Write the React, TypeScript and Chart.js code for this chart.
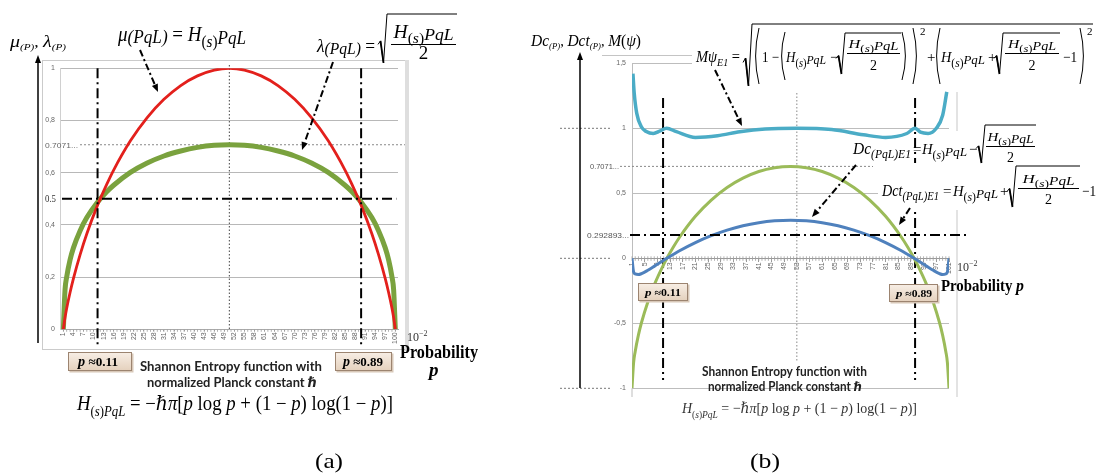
import React, { useEffect, useRef } from 'react';
import { Chart, registerables } from 'chart.js';
Chart.register(...registerables);

// ---------- DATA ----------
// Panel (a): category index 1..100 (probability ×10^-2)
const xTicksA = [1, 4, 7, 10, 13, 16, 19, 22, 25, 28, 31, 34, 37, 40, 43, 46, 49, 52, 55, 58, 61, 64, 67, 70, 73, 76, 79, 82, 85, 88, 91, 94, 97, 100];
const yTicksA = [0, 0.2, 0.4, 0.6, 0.8, 1];
const idxA = [1, 1.5, 2, 3, 4, 6, 8, 11, 14, 16, 21, 26, 31, 36, 41, 46, 50.5, 55, 60, 65, 70, 75, 80, 85, 87, 90, 93, 95, 97, 98, 99, 99.5, 100];
const muA = [0, 0.045, 0.081, 0.141, 0.194, 0.286, 0.366, 0.469, 0.557, 0.61, 0.722, 0.811, 0.881, 0.934, 0.971, 0.993, 1.0, 0.993, 0.971, 0.934, 0.881, 0.811, 0.722, 0.61, 0.557, 0.469, 0.366, 0.286, 0.194, 0.141, 0.081, 0.045, 0];
const lambdaA = [0, 0.151, 0.201, 0.266, 0.312, 0.378, 0.428, 0.484, 0.528, 0.552, 0.601, 0.637, 0.664, 0.683, 0.697, 0.705, 0.707, 0.705, 0.697, 0.683, 0.664, 0.637, 0.601, 0.552, 0.528, 0.484, 0.428, 0.378, 0.312, 0.266, 0.201, 0.151, 0];
const refLevelsA = [0.7071, 0.5];
const markPA = [11.2, 89.8];
const centerA = 50.5;

// Panel (b): category index 1..101
const xTicksB = [1, 5, 9, 13, 17, 21, 25, 29, 33, 37, 41, 45, 49, 53, 57, 61, 65, 69, 73, 77, 81, 85, 89, 93, 97, 101];
const yTicksB = [-1, -0.5, 0, 0.5, 1, 1.5];
const idxB = [1, 1.5, 2, 3, 4, 6, 8, 11, 12, 14, 16, 21, 26, 31, 36, 41, 46, 51, 56, 61, 66, 71, 76, 81, 86, 88, 90, 91, 94, 96, 98, 99, 100, 100.5, 101];
const dcB = [0, -0.105, -0.12, -0.125, -0.118, -0.092, -0.062, -0.015, 0, 0.029, 0.058, 0.121, 0.174, 0.217, 0.251, 0.274, 0.288, 0.293, 0.288, 0.274, 0.251, 0.217, 0.174, 0.121, 0.058, 0.029, 0, -0.015, -0.062, -0.092, -0.118, -0.125, -0.12, -0.105, 0];
const dctB = [-1, -0.804, -0.718, -0.593, -0.494, -0.336, -0.206, -0.047, 0, 0.085, 0.162, 0.323, 0.448, 0.545, 0.617, 0.668, 0.697, 0.707, 0.697, 0.668, 0.617, 0.545, 0.448, 0.323, 0.162, 0.085, 0, -0.047, -0.206, -0.336, -0.494, -0.593, -0.718, -0.804, -1];
const idxM = [1.3, 1.7, 2.5, 4, 5.5, 7.7, 9.9, 11.9, 15, 21, 28, 35, 43, 53, 64, 74, 81, 87.7, 90.3, 92, 94.4, 97, 99, 100.3];
const mPsiB = [1.42, 1.27, 1.115, 1.01, 0.975, 0.96, 0.98, 1.0, 0.974, 0.93, 0.943, 0.974, 0.995, 1.0, 0.99, 0.95, 0.93, 0.96, 1.0, 0.97, 0.96, 1.0, 1.1, 1.28];
const refLevelsB = [0.7071, 0.179];
const markPB = [10.8, 90.3];
const centerB = 53;

// ---------- DRAW HELPERS ----------
const SERIF = '"Liberation Serif", "DejaVu Serif", serif';
const SANS = '"Liberation Sans", "DejaVu Sans", sans-serif';
const LATO = 'Lato, "Open Sans", "DejaVu Sans", sans-serif';

type P = { t: string; s: number; i?: boolean; b?: boolean; dy?: number; dx?: number; f?: string };
const fnt = (p: P) => `${p.i ? 'italic ' : ''}${p.b ? 'bold ' : ''}${p.s}px ${p.f || SERIF}`;

function widthOf(ctx: CanvasRenderingContext2D, ps: P[]) {
  let w = 0;
  for (const p of ps) { ctx.font = fnt(p); w += (p.dx || 0) + ctx.measureText(p.t).width; }
  return w;
}
function put(ctx: CanvasRenderingContext2D, x: number, y: number, ps: P[], target?: number, color = '#000') {
  const w = widthOf(ctx, ps);
  const k = target ? target / w : 1;
  ctx.save();
  ctx.textAlign = 'left';
  ctx.textBaseline = 'alphabetic';
  ctx.fillStyle = color;
  ctx.translate(x, y);
  ctx.scale(k, 1);
  let cx = 0;
  for (const p of ps) {
    ctx.font = fnt(p);
    cx += p.dx || 0;
    ctx.fillText(p.t, cx, p.dy || 0);
    cx += ctx.measureText(p.t).width;
  }
  ctx.restore();
  return x + w * k;
}
const Hs = (s: number, sub = false): P[] => sub ? [
  { t: 'H', s, i: true }, { t: '(', s: s * 0.68, dy: s * 0.3 }, { t: 's', s: s * 0.68, i: true, dy: s * 0.3 },
  { t: ')', s: s * 0.68, dy: s * 0.3 }, { t: 'PqL', s: s * 0.68, i: true, dy: s * 0.3 },
] : [
  { t: 'H', s, i: true }, { t: '(', s: s * 0.8, dy: s * 0.3 }, { t: 's', s: s * 0.8, i: true, dy: s * 0.3 },
  { t: ')', s: s * 0.8, dy: s * 0.3 }, { t: 'PqL', s: s * 0.9, i: true, dy: s * 0.12 },
];
function radical(ctx: CanvasRenderingContext2D, x: number, top: number, bot: number, x2: number) {
  const h = bot - top;
  ctx.save();
  ctx.strokeStyle = '#000';
  ctx.lineWidth = 1;
  ctx.beginPath();
  ctx.moveTo(x, top + h * 0.62);
  ctx.lineTo(x + 2.5, top + h * 0.55);
  ctx.lineTo(x + 5.5, bot);
  ctx.lineTo(x + 9, top);
  ctx.lineTo(x2, top);
  ctx.stroke();
  ctx.lineWidth = 1.8;
  ctx.beginPath();
  ctx.moveTo(x + 2.5, top + h * 0.55);
  ctx.lineTo(x + 5.5, bot);
  ctx.stroke();
  ctx.restore();
}
function frac(ctx: CanvasRenderingContext2D, x1: number, x2: number, barY: number, num: P[], numY: number, den: P[], denY: number, nw?: number) {
  const wn = nw || widthOf(ctx, num);
  const wd = widthOf(ctx, den);
  const cx = (x1 + x2) / 2;
  put(ctx, cx - wn / 2, numY, num, nw);
  put(ctx, cx - wd / 2, denY, den);
  ctx.fillStyle = '#000';
  ctx.fillRect(x1, barY, x2 - x1, 1);
}
function paren(ctx: CanvasRenderingContext2D, x: number, top: number, bot: number, right: boolean, w = 4) {
  ctx.save();
  ctx.strokeStyle = '#000';
  ctx.lineWidth = 1;
  ctx.beginPath();
  if (!right) { ctx.moveTo(x + w, top); ctx.quadraticCurveTo(x - w * 0.7, (top + bot) / 2, x + w, bot); }
  else { ctx.moveTo(x, top); ctx.quadraticCurveTo(x + w * 1.7, (top + bot) / 2, x, bot); }
  ctx.stroke();
  ctx.restore();
}
function dline(ctx: CanvasRenderingContext2D, x1: number, y1: number, x2: number, y2: number, dash: number[], lw: number, color = '#000') {
  ctx.save();
  ctx.strokeStyle = color;
  ctx.lineWidth = lw;
  ctx.setLineDash(dash);
  ctx.beginPath();
  ctx.moveTo(x1, y1);
  ctx.lineTo(x2, y2);
  ctx.stroke();
  ctx.restore();
}
function arrow(ctx: CanvasRenderingContext2D, x1: number, y1: number, x2: number, y2: number) {
  const a = Math.atan2(y2 - y1, x2 - x1);
  const L = 8, W = 3.2;
  const bx = x2 - L * Math.cos(a), by = y2 - L * Math.sin(a);
  dline(ctx, x1, y1, bx, by, [7, 3, 2, 3], 2);
  ctx.save();
  ctx.fillStyle = '#000';
  ctx.beginPath();
  ctx.moveTo(x2, y2);
  ctx.lineTo(bx - W * Math.sin(a), by + W * Math.cos(a));
  ctx.lineTo(bx + W * Math.sin(a), by - W * Math.cos(a));
  ctx.closePath();
  ctx.fill();
  ctx.restore();
}
function axisArrow(ctx: CanvasRenderingContext2D, x: number, y1: number, y2: number) {
  ctx.save();
  ctx.strokeStyle = '#000';
  ctx.fillStyle = '#000';
  ctx.lineWidth = 1.5;
  ctx.beginPath();
  ctx.moveTo(x, y1);
  ctx.lineTo(x, y2 + 6);
  ctx.stroke();
  ctx.beginPath();
  ctx.moveTo(x, y2);
  ctx.lineTo(x - 3, y2 + 8);
  ctx.lineTo(x + 3, y2 + 8);
  ctx.closePath();
  ctx.fill();
  ctx.restore();
}
function pbox(ctx: CanvasRenderingContext2D, x: number, y: number, w: number, h: number) {
  ctx.save();
  ctx.fillStyle = '#d8c8b8';
  ctx.fillRect(x + 1.5, y + 1.5, w, h);
  const g = ctx.createLinearGradient(0, y, 0, y + h);
  g.addColorStop(0, '#f8efe6');
  g.addColorStop(1, '#e4d0bc');
  ctx.fillStyle = g;
  ctx.fillRect(x, y, w, h);
  ctx.strokeStyle = '#9c8470';
  ctx.lineWidth = 1;
  ctx.strokeRect(x + 0.5, y + 0.5, w - 1, h - 1);
  ctx.restore();
}
function hline(ctx: CanvasRenderingContext2D, x1: number, x2: number, y: number, color: string, lw = 1) {
  ctx.save(); ctx.fillStyle = color; ctx.fillRect(x1, y - lw / 2, x2 - x1, lw); ctx.restore();
}
function vline(ctx: CanvasRenderingContext2D, x: number, y1: number, y2: number, color: string, lw = 1) {
  ctx.save(); ctx.fillStyle = color; ctx.fillRect(x - lw / 2, y1, lw, y2 - y1); ctx.restore();
}
const entropyFormula = (s: number): P[] => [
  ...Hs(s, true), { t: ' = −', s }, { t: 'ℏπ', s, i: true }, { t: '[', s }, { t: 'p', s, i: true }, { t: ' log ', s },
  { t: 'p', s, i: true }, { t: ' + (1 − ', s }, { t: 'p', s, i: true }, { t: ') log(1 − ', s }, { t: 'p', s, i: true }, { t: ')]', s },
];

// ---------- PANEL PLUGINS ----------
const annotA = {
  id: 'annotA',
  beforeDatasetsDraw(chart: any) {
    const ctx: CanvasRenderingContext2D = chart.ctx;
    const xs = chart.scales.x, ys = chart.scales.y;
    const X = (v: number) => xs.getPixelForValue(v);
    const Y = (v: number) => ys.getPixelForValue(v);
    ctx.save();
    ctx.strokeStyle = '#cbcbcb'; ctx.lineWidth = 1;
    ctx.strokeRect(42.5, 60.5, 363, 289);
    ctx.fillStyle = '#dedede'; ctx.fillRect(405, 60, 4, 291);
    for (let i = 1; i <= 100; i++) vline(ctx, X(i), Y(0), Y(0) + 2.5, '#a0a0a0', 0.8);
    dline(ctx, 80, Y(refLevelsA[0]), 405, Y(refLevelsA[0]), [2, 2], 1, '#888');
    dline(ctx, X(centerA), 65, X(centerA), 330, [1.5, 2], 1, '#444');
    ctx.restore();
  },
  afterDraw(chart: any) {
    const ctx: CanvasRenderingContext2D = chart.ctx;
    const xs = chart.scales.x, ys = chart.scales.y;
    const X = (v: number) => xs.getPixelForValue(v);
    const Y = (v: number) => ys.getPixelForValue(v);
    ctx.save();
    put(ctx, 45, Y(refLevelsA[0]) + 3, [{ t: '0.7071...', s: 8, f: SANS }], 33, '#666');
    dline(ctx, X(0) + 2, Y(refLevelsA[1]), X(100.3), Y(refLevelsA[1]), [10, 4, 2, 4], 2);
    put(ctx, 45, Y(refLevelsA[1]) + 3.5, [{ t: '0.5', s: 10 }], 11, '#333');
    for (const v of markPA) dline(ctx, X(v), Y(1), X(v), 348, [10, 4, 2, 4], 2);
    axisArrow(ctx, 38, 343, 55);
    put(ctx, 10, 47, [{ t: 'μ', s: 16, i: true }, { t: '(P)', s: 9, i: true, dy: 3 }, { t: ', ', s: 14 }, { t: 'λ', s: 16, i: true }, { t: '(P)', s: 9, i: true, dy: 3 }], 56);
    put(ctx, 118, 41, [{ t: 'μ', s: 21, i: true }, { t: '(PqL)', s: 19, i: true, dy: 2 }, { t: ' = ', s: 21 }, ...Hs(21)], 128);
    put(ctx, 317, 52, [{ t: 'λ', s: 19, i: true }, { t: '(PqL)', s: 17, i: true, dy: 2 }, { t: ' =', s: 19 }], 58);
    radical(ctx, 378, 14, 63, 457);
    frac(ctx, 391, 456, 44, Hs(18), 38, [{ t: '2', s: 19 }], 59, 60);
    arrow(ctx, 140, 50, 158, 92);
    arrow(ctx, 333, 62, 302, 150);
    pbox(ctx, 68, 352, 64, 19);
    put(ctx, 78, 366, [{ t: 'p', s: 14, b: true, i: true }, { t: ' ≈0.11', s: 13, b: true }], 40);
    pbox(ctx, 335, 352, 57, 19);
    put(ctx, 343, 366, [{ t: 'p', s: 14, b: true, i: true }, { t: ' ≈0.89', s: 13, b: true }], 40);
    put(ctx, 400, 358, [{ t: 'Probability', s: 18, b: true }], 78);
    put(ctx, 429, 376, [{ t: 'p', s: 19, b: true, i: true }]);
    put(ctx, 407, 341, [{ t: '10', s: 12 }, { t: '−2', s: 8, dy: -5 }], undefined, '#333');
    put(ctx, 140, 371, [{ t: 'Shannon Entropy function with', s: 14, b: true, f: LATO }], 182, '#222');
    put(ctx, 147, 387, [{ t: 'normalized Planck constant ℏ', s: 14, b: true, f: LATO }], 170, '#222');
    put(ctx, 77, 410, entropyFormula(20), 316);
    put(ctx, 315, 468, [{ t: '(a)', s: 21 }], 28);
    ctx.restore();
  },
};

const OX = 520;
const annotB = {
  id: 'annotB',
  beforeDatasetsDraw(chart: any) {
    const ctx: CanvasRenderingContext2D = chart.ctx;
    const xs = chart.scales.x, ys = chart.scales.y;
    const X = (v: number) => xs.getPixelForValue(v) + OX;
    const Y = (v: number) => ys.getPixelForValue(v);
    ctx.save();
    ctx.translate(-OX, 0);
    hline(ctx, 602, 692, 55.5, '#c4c4c4');
    vline(ctx, 957, 92, 397, '#c8c8c8');
    vline(ctx, X(1), Y(-1), 397, '#bdbdbd');
    ctx.fillStyle = '#fff';
    ctx.fillRect(692, 18, 406, 70);
    ctx.fillRect(850, 131, 190, 34);
    for (let i = 1; i <= 101; i++) vline(ctx, X(i), Y(0) - 2, Y(0) + 2.5, '#a0a0a0', 0.8);
    for (const v of [1, 0, -1]) dline(ctx, 560, Y(v), 612, Y(v), [2, 2], 1, '#777');
    dline(ctx, 620, Y(refLevelsB[0]), 873, Y(refLevelsB[0]), [2, 2], 1, '#888');
    for (const v of markPB) dline(ctx, X(v), 98, X(v), 380, [10, 4, 2, 4], 2);
    dline(ctx, X(centerB), 93, X(centerB), 362, [1.5, 2], 1, '#888');
    ctx.fillStyle = '#fff';
    ctx.fillRect(878, 163, 220, 47);
    ctx.restore();
  },
  afterDraw(chart: any) {
    const ctx: CanvasRenderingContext2D = chart.ctx;
    const ys = chart.scales.y;
    const Y = (v: number) => ys.getPixelForValue(v);
    ctx.save();
    ctx.translate(-OX, 0);
    put(ctx, 590, Y(refLevelsB[0]) + 3, [{ t: '0.7071...', s: 8, f: SANS }], 29, '#555');
    dline(ctx, 630, Y(refLevelsB[1]), 967, Y(refLevelsB[1]), [10, 4, 2, 4], 2);
    put(ctx, 587, Y(refLevelsB[1]) + 3, [{ t: '0.292893...', s: 8, f: SANS }], 42, '#555');
    pbox(ctx, 638, 283, 50, 18);
    put(ctx, 645, 296, [{ t: 'p', s: 11, b: true, i: true }, { t: ' ≈0.11', s: 10, b: true }], 36);
    pbox(ctx, 889, 284, 49, 18);
    put(ctx, 896, 297, [{ t: 'p', s: 11, b: true, i: true }, { t: ' ≈0.89', s: 10, b: true }], 36);
    axisArrow(ctx, 580, 388, 52);
    put(ctx, 531, 46, [{ t: 'Dc', s: 16, i: true }, { t: '(P)', s: 9, i: true, dy: 3 }, { t: ', ', s: 15 }, { t: 'Dct', s: 16, i: true }, { t: '(P)', s: 9, i: true, dy: 3 }, { t: ', ', s: 15 }, { t: 'M', s: 16, i: true }, { t: '(', s: 16 }, { t: 'ψ', s: 16, i: true }, { t: ')', s: 16 }], 110);
    // M psi formula
    put(ctx, 696, 62, [{ t: 'M', s: 16, i: true }, { t: 'ψ', s: 16, i: true }, { t: 'E1', s: 11, i: true, dy: 4 }, { t: ' =', s: 16 }], 44);
    radical(ctx, 743, 24, 86, 1093);
    paren(ctx, 755, 28, 84, false);
    put(ctx, 762, 62, [{ t: '1 −', s: 15 }], 17);
    paren(ctx, 781, 32, 80, false);
    put(ctx, 786, 62, Hs(15), 40);
    put(ctx, 830, 62, [{ t: '−', s: 15 }]);
    radical(ctx, 836, 33, 74, 901);
    frac(ctx, 847, 900, 53, Hs(13), 48, [{ t: '2', s: 14 }], 70, 50);
    paren(ctx, 902, 32, 80, true);
    paren(ctx, 913, 28, 84, true);
    put(ctx, 920, 35, [{ t: '2', s: 11 }]);
    put(ctx, 927, 62, [{ t: '+', s: 15 }]);
    paren(ctx, 936, 28, 84, false);
    put(ctx, 941, 62, Hs(15), 44);
    put(ctx, 988, 62, [{ t: '+', s: 15 }]);
    radical(ctx, 994, 33, 74, 1060);
    frac(ctx, 1005, 1059, 53, Hs(13), 48, [{ t: '2', s: 14 }], 70, 48);
    put(ctx, 1063, 62, [{ t: '−1', s: 15 }], 14);
    paren(ctx, 1080, 28, 84, true);
    put(ctx, 1087, 35, [{ t: '2', s: 11 }]);
    // Dc formula
    put(ctx, 853, 154, [{ t: 'Dc', s: 16, i: true }, { t: '(PqL)E1', s: 12, i: true, dy: 4 }], 58);
    put(ctx, 913, 154, [{ t: '=', s: 15 }]);
    put(ctx, 922, 154, Hs(15), 45);
    put(ctx, 969, 154, [{ t: '−', s: 15 }]);
    radical(ctx, 976, 125, 163, 1036);
    frac(ctx, 986, 1035, 146, Hs(13), 141, [{ t: '2', s: 14 }], 162, 46);
    // Dct formula
    put(ctx, 882, 196, [{ t: 'Dct', s: 16, i: true }, { t: '(PqL)E1', s: 12, i: true, dy: 4 }], 57);
    put(ctx, 943, 196, [{ t: '=', s: 15 }]);
    put(ctx, 953, 196, Hs(15), 45);
    put(ctx, 1000, 196, [{ t: '+', s: 15 }]);
    radical(ctx, 1007, 166, 207, 1080);
    frac(ctx, 1018, 1079, 188, Hs(13), 183, [{ t: '2', s: 14 }], 204, 52);
    put(ctx, 1082, 196, [{ t: '−1', s: 15 }], 14);
    arrow(ctx, 715, 70, 742, 126);
    arrow(ctx, 856, 165, 812, 217);
    arrow(ctx, 910, 208, 899, 225);
    put(ctx, 941, 291, [{ t: 'Probability ', s: 16, b: true }, { t: 'p', s: 17, b: true, i: true }], 83);
    put(ctx, 957, 271, [{ t: '10', s: 12 }, { t: '−2', s: 8, dy: -5 }], undefined, '#333');
    put(ctx, 702, 376, [{ t: 'Shannon Entropy function with', s: 13, b: true, f: LATO }], 165, '#222');
    put(ctx, 708, 391, [{ t: 'normalized Planck constant ℏ', s: 13, b: true, f: LATO }], 154, '#222');
    put(ctx, 682, 413, entropyFormula(15), 235, '#333');
    put(ctx, 750, 468, [{ t: '(b)', s: 21 }], 30);
    ctx.restore();
  },
};

const comma = (v: any) => String(v).replace('.', ',');

export default function App() {
  const refA = useRef<HTMLCanvasElement>(null);
  const refB = useRef<HTMLCanvasElement>(null);
  useEffect(() => {
    const line = (xs: number[], ys: number[], color: string, w: number) => ({
      data: xs.map((x, i) => ({ x, y: ys[i] })),
      borderColor: color,
      borderWidth: w,
      pointRadius: 0,
      fill: false,
      cubicInterpolationMode: 'monotone' as const,
    });
    const a = new Chart(refA.current!, {
      type: 'line',
      data: {
        datasets: [
          line(idxA, muA, '#e3201c', 2.8),
          line(idxA, lambdaA, '#7aa23e', 5),
        ],
      },
      options: {
        animation: false,
        responsive: false,
        devicePixelRatio: 1,
        layout: { padding: { left: 30, right: 122, top: 68.3, bottom: 126.7 } },
        plugins: { legend: { display: false }, tooltip: { enabled: false } },
        scales: {
          x: {
            type: 'linear', min: 0, max: 100.8,
            afterBuildTicks: (s: any) => { s.ticks = xTicksA.map((v) => ({ value: v })); },
            afterFit: (s: any) => { s.height = 20; },
            ticks: { autoSkip: false, maxRotation: 90, minRotation: 90, padding: 1, color: '#666', font: { size: 7, family: SANS } },
            grid: { drawOnChartArea: false, tickLength: 2, color: '#999' },
            border: { color: '#aaa' },
          },
          y: {
            min: 0, max: 1,
            afterBuildTicks: (s: any) => { s.ticks = yTicksA.map((v) => ({ value: v })); },
            afterFit: (s: any) => { s.width = 30; },
            ticks: { padding: 5, color: '#666', font: { size: 7, family: SANS }, callback: comma },
            grid: { color: '#b8b8b8', drawTicks: false },
            border: { color: '#d0d0d0' },
          },
        },
      } as any,
      plugins: [annotA],
    });
    const b = new Chart(refB.current!, {
      type: 'line',
      data: {
        datasets: [
          line(idxM, mPsiB, '#4bacc6', 3.5),
          line(idxB, dcB, '#4f81bd', 3),
          line(idxB, dctB, '#9bbb59', 3),
        ],
      },
      options: {
        animation: false,
        responsive: false,
        devicePixelRatio: 1,
        layout: { padding: { left: 82, right: 149, top: 63.3, bottom: 87.7 } },
        plugins: { legend: { display: false }, tooltip: { enabled: false } },
        scales: {
          x: {
            type: 'linear', min: 1, max: 101, position: { y: 0 },
            afterBuildTicks: (s: any) => { s.ticks = xTicksB.map((v) => ({ value: v })); },
            ticks: { autoSkip: false, maxRotation: 90, minRotation: 90, padding: 1, color: '#666', font: { size: 7, family: SANS } },
            grid: { drawOnChartArea: false, tickLength: 3, color: '#999' },
            border: { color: '#999' },
          },
          y: {
            min: -1, max: 1.5,
            afterBuildTicks: (s: any) => { s.ticks = yTicksB.map((v) => ({ value: v })); },
            afterFit: (s: any) => { s.width = 30; },
            ticks: { padding: 6, color: '#666', font: { size: 7, family: SANS }, callback: comma },
            grid: { color: '#bdbdbd', drawTicks: false },
            border: { color: '#bdbdbd' },
          },
        },
      } as any,
      plugins: [annotB],
    });
    return () => { a.destroy(); b.destroy(); };
  }, []);
  return (
    <div style={{ position: 'absolute', left: 0, top: 0, width: 1098, height: 476, background: '#fff' }}>
      <canvas ref={refA} width={520} height={476} style={{ position: 'absolute', left: 0, top: 0, width: 520, height: 476 }} />
      <canvas ref={refB} width={578} height={476} style={{ position: 'absolute', left: 520, top: 0, width: 578, height: 476 }} />
    </div>
  );
}
